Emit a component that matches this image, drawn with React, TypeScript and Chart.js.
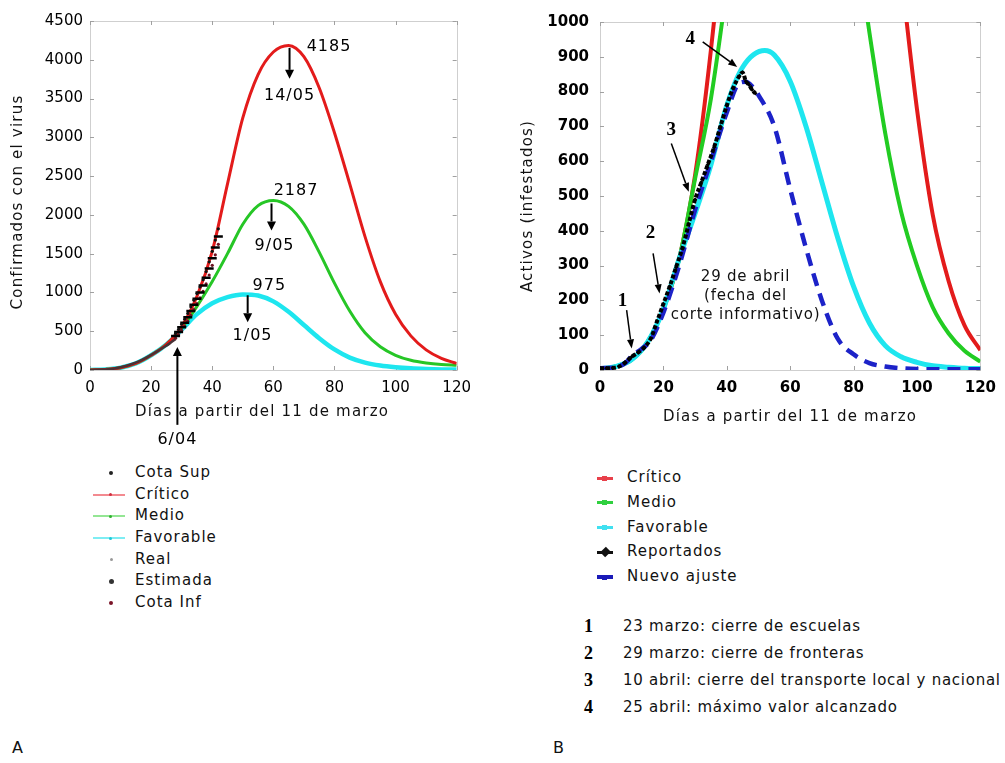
import React, { useEffect, useRef } from "react";
import { Chart, registerables } from "chart.js";

Chart.register(...registerables);

const FONT = '"DejaVu Sans", Verdana, sans-serif';
const SERIF = '"Liberation Serif", "DejaVu Serif", serif';

// ---------------- Panel A: Confirmados ----------------
const xTicksA = [0, 20, 40, 60, 80, 100, 120];
const yTicksA = [0, 500, 1000, 1500, 2000, 2500, 3000, 3500, 4000, 4500];
const daysA = [0, 5, 10, 15, 20, 25, 30, 35, 40, 45, 50, 55, 60, 65, 70, 75, 80, 85, 90, 95, 100, 105, 110, 115, 120];
const criticoA = [0, 8, 30, 85, 190, 330, 560, 950, 1530, 2400, 3250, 3810, 4100, 4185, 4040, 3640, 3060, 2400, 1720, 1140, 720, 440, 260, 150, 85];
const medioA = [0, 8, 30, 85, 190, 330, 540, 820, 1140, 1500, 1880, 2120, 2187, 2110, 1880, 1520, 1120, 760, 480, 300, 190, 125, 90, 70, 60];
const favorableA = [0, 8, 30, 85, 190, 330, 520, 720, 860, 940, 975, 960, 885, 750, 580, 410, 265, 160, 95, 57, 35, 21, 13, 8, 5];
const daysRealA = [0, 2, 4, 6, 8, 10, 12, 14, 16, 18, 20, 22, 24, 26, 28];
const realA = [0, 2, 5, 10, 20, 35, 55, 80, 110, 150, 195, 240, 290, 340, 400];
const daysEstA = [28, 29, 30, 31, 32, 33, 34, 35, 36, 37, 38, 39, 40, 41, 42];
const estimadaA = [440, 490, 550, 610, 680, 760, 840, 920, 1000, 1090, 1190, 1310, 1440, 1580, 1720];
const cotaSupA = [470, 525, 590, 655, 730, 815, 900, 985, 1070, 1165, 1270, 1395, 1530, 1675, 1820];
const cotaInfA = [410, 455, 510, 565, 630, 705, 780, 855, 930, 1015, 1110, 1225, 1350, 1485, 1620];
const legendLabelsA = ["Cota Sup", "Crítico", "Medio", "Favorable", "Real", "Estimada", "Cota Inf"];

// ---------------- Panel B: Activos ----------------
const xTicksB = [0, 20, 40, 60, 80, 100, 120];
const yTicksB = [0, 100, 200, 300, 400, 500, 600, 700, 800, 900, 1000];
const daysB = [0, 5, 10, 15, 20, 25, 30, 35, 40, 45, 50, 55, 60, 65, 70, 75, 80, 85, 90, 95, 100, 105, 110, 115, 120];
const criticoB = [3, 10, 30, 80, 175, 320, 560, 920, 1380, 1950, 2500, 2950, 3200, 3300, 3150, 2850, 2400, 1950, 1520, 1140, 750, 445, 255, 128, 57];
const medioB = [3, 10, 30, 80, 175, 320, 550, 780, 1100, 1450, 1750, 1950, 2000, 1950, 1800, 1560, 1280, 970, 680, 455, 300, 180, 105, 55, 24];
const daysFavB = [0, 5, 10, 15, 20, 25, 30, 35, 40, 45, 52, 55, 60, 65, 70, 75, 80, 85, 90, 95, 100, 105, 110, 115, 120];
const favorableB = [3, 10, 30, 80, 175, 320, 450, 590, 760, 870, 918, 905, 830, 700, 540, 380, 240, 135, 70, 38, 22, 12, 8, 5, 4];
const daysAjusteB = [0, 5, 8, 10, 13, 16, 20, 25, 30, 35, 40, 44, 46, 48, 50, 55, 60, 65, 70, 75, 80, 85, 90, 95, 100, 110, 120];
const ajusteB = [5, 8, 20, 40, 60, 85, 165, 300, 460, 600, 740, 825, 828, 815, 790, 700, 520, 350, 200, 90, 45, 20, 10, 5, 3, 2, 2];
const daysRepB = [0, 2, 4, 6, 8, 10, 12, 14, 16, 18, 20, 22, 24, 26, 28, 30, 32, 34, 36, 38, 40, 42, 44, 45, 46, 47, 48, 49];
const reportadosB = [5, 5, 6, 10, 22, 38, 50, 65, 90, 140, 190, 240, 295, 350, 420, 490, 540, 590, 640, 700, 760, 810, 845, 855, 830, 820, 805, 795];
const legendLabelsB = ["Crítico", "Medio", "Favorable", "Reportados", "Nuevo ajuste"];
const eventNumbers = ["1", "2", "3", "4"];
const eventLabels = [
  "23 marzo: cierre de escuelas",
  "29 marzo: cierre de fronteras",
  "10 abril: cierre del transporte local y nacional",
  "25 abril: máximo valor alcanzado",
];

const pts = (xs: number[], ys: number[]) => xs.map((x, i) => ({ x, y: ys[i] }));

function drawArrow(ctx: any, x1: number, y1: number, x2: number, y2: number, head: number, half: number, lw: number) {
  const ang = Math.atan2(y2 - y1, x2 - x1);
  const bx = x2 - head * Math.cos(ang);
  const by = y2 - head * Math.sin(ang);
  ctx.lineWidth = lw;
  ctx.beginPath();
  ctx.moveTo(x1, y1);
  ctx.lineTo(bx, by);
  ctx.stroke();
  ctx.beginPath();
  ctx.moveTo(x2, y2);
  ctx.lineTo(bx + half * Math.sin(ang), by - half * Math.cos(ang));
  ctx.lineTo(bx - half * Math.sin(ang), by + half * Math.cos(ang));
  ctx.closePath();
  ctx.fill();
}

const framePlugin = {
  id: "frameTicks",
  beforeDatasetsDraw(chart: any) {
    const { ctx, chartArea: a, scales } = chart;
    ctx.save();
    ctx.strokeStyle = "#cfcfcf";
    ctx.lineWidth = 1;
    ctx.strokeRect(Math.round(a.left) + 0.5, Math.round(a.top) + 0.5, Math.round(a.right - a.left), Math.round(a.bottom - a.top));
    ctx.strokeStyle = "#a0a0a0";
    ctx.beginPath();
    scales.x.ticks.forEach((t: any) => {
      const px = Math.round(scales.x.getPixelForValue(t.value)) + 0.5;
      ctx.moveTo(px, a.top);
      ctx.lineTo(px, a.top + 4);
      ctx.moveTo(px, a.bottom);
      ctx.lineTo(px, a.bottom - 4);
    });
    scales.y.ticks.forEach((t: any) => {
      const py = Math.round(scales.y.getPixelForValue(t.value)) + 0.5;
      ctx.moveTo(a.left, py);
      ctx.lineTo(a.left + 4, py);
      ctx.moveTo(a.right, py);
      ctx.lineTo(a.right - 4, py);
    });
    ctx.stroke();
    ctx.restore();
  },
};

function titlesPlugin(xTitle: string, yTitle: string, xTitleX: number, xTitleY: number, yTitleX: number, yTitleY: number) {
  return {
    id: "axisTitles",
    afterDraw(chart: any) {
      const { ctx } = chart;
      ctx.save();
      ctx.fillStyle = "#111";
      ctx.font = `15px ${FONT}`;
      ctx.letterSpacing = "1.2px";
      ctx.textAlign = "center";
      ctx.textBaseline = "middle";
      ctx.fillText(xTitle, xTitleX, xTitleY);
      ctx.translate(yTitleX, yTitleY);
      ctx.rotate(-Math.PI / 2);
      ctx.fillText(yTitle, 0, 0);
      ctx.restore();
    },
  };
}

const annotAPlugin = {
  id: "annotA",
  afterDraw(chart: any) {
    const { ctx, scales } = chart;
    const X = (v: number) => scales.x.getPixelForValue(v);
    const Y = (v: number) => scales.y.getPixelForValue(v);
    ctx.save();
    ctx.fillStyle = "#000";
    ctx.strokeStyle = "#000";
    ctx.font = `16px ${FONT}`;
    ctx.letterSpacing = "1px";
    ctx.textBaseline = "middle";
    const txt = (s: string, x: number, y: number, align: string) => {
      ctx.textAlign = align;
      ctx.fillText(s, X(x), Y(y));
    };
    txt("4185", 70.9, 4166, "left");
    drawArrow(ctx, X(65.3), Y(4153), X(65.3), Y(3754), 9, 4.5, 2);
    txt("14/05", 65.3, 3536, "center");
    txt("2187", 60.1, 2314, "left");
    drawArrow(ctx, X(59.4), Y(2147), X(59.4), Y(1800), 9, 4.5, 2);
    txt("9/05", 60.4, 1607, "center");
    txt("975", 53.2, 1080, "left");
    drawArrow(ctx, X(51.6), Y(964), X(51.6), Y(617), 9, 4.5, 2);
    txt("1/05", 53.2, 437, "center");
    drawArrow(ctx, X(28.6), Y(-707), X(28.6), Y(296), 9, 4.5, 2);
    txt("6/04", 28.6, -900, "center");
    ctx.restore();
  },
};

const annotBPlugin = {
  id: "annotB",
  afterDraw(chart: any) {
    const { ctx, scales } = chart;
    const X = (v: number) => scales.x.getPixelForValue(v);
    const Y = (v: number) => scales.y.getPixelForValue(v);
    ctx.save();
    ctx.fillStyle = "#000";
    ctx.strokeStyle = "#000";
    ctx.textAlign = "center";
    ctx.textBaseline = "middle";
    ctx.font = `bold 19px ${SERIF}`;
    const nums = [
      [7.1, 198],
      [15.9, 393],
      [22.5, 689],
      [28.5, 950],
    ];
    nums.forEach((p, i) => ctx.fillText(eventNumbers[i], X(p[0]), Y(p[1])));
    drawArrow(ctx, X(8.4), Y(172), X(10), Y(62), 9, 3.5, 1.5);
    drawArrow(ctx, X(16.75), Y(335), X(18.8), Y(220), 9, 3.5, 1.5);
    drawArrow(ctx, X(22.5), Y(651), X(28), Y(512), 9, 3.5, 1.5);
    drawArrow(ctx, X(32.4), Y(943), X(43.3), Y(871), 9, 3.5, 1.5);
    ctx.font = `15px ${FONT}`;
    ctx.letterSpacing = "0.8px";
    ctx.fillStyle = "#111";
    ctx.fillText("29 de abril", X(45.9), Y(267));
    ctx.fillText("(fecha del", X(45.9), Y(212));
    ctx.fillText("corte informativo)", X(45.9), Y(158));
    ctx.restore();
  },
};

function xScale(ticks: number[], font: any, h: number) {
  return {
    type: "linear",
    min: 0,
    max: 120,
    afterBuildTicks: (s: any) => {
      s.ticks = ticks.map((v) => ({ value: v }));
    },
    afterFit: (s: any) => {
      s.height = h;
    },
    grid: { display: false, drawTicks: false },
    border: { display: false },
    ticks: { font, color: "#000", padding: 9, maxRotation: 0, autoSkip: false, callback: (v: any) => String(v) },
  };
}

function yScale(ticks: number[], max: number, width: number, pad: number, font: any) {
  return {
    type: "linear",
    min: 0,
    max,
    afterBuildTicks: (s: any) => {
      s.ticks = ticks.map((v) => ({ value: v }));
    },
    afterFit: (s: any) => {
      s.width = width;
    },
    grid: { display: false, drawTicks: false },
    border: { display: false },
    ticks: { font, color: "#000", padding: pad, autoSkip: false, callback: (v: any) => String(v) },
  };
}

const lineDs = (label: string, data: any, color: string, width: number, extra: any = {}) => ({
  label,
  data,
  borderColor: color,
  backgroundColor: color,
  borderWidth: width,
  pointRadius: 0,
  cubicInterpolationMode: "monotone",
  fill: false,
  ...extra,
});

function LegendA() {
  const top0 = 473;
  const step = 21.67;
  const markers = [
    { t: "dot", c: "#222", s: 4 },
    { t: "line", c: "rgba(235,60,70,0.6)", d: "#d03040" },
    { t: "line", c: "rgba(60,210,60,0.55)", d: "#30b030" },
    { t: "line", c: "rgba(40,225,235,0.6)", d: "#20c8d8" },
    { t: "dot", c: "#999", s: 3 },
    { t: "dot", c: "#333", s: 5 },
    { t: "dot", c: "#7a1428", s: 4 },
  ];
  return (
    <>
      {legendLabelsA.map((lab, i) => {
        const cy = top0 + i * step;
        const m = markers[i];
        return (
          <React.Fragment key={lab}>
            {m.t === "line" && (
              <div style={{ position: "absolute", left: 93, top: cy - 1, width: 32, height: 2, background: m.c }} />
            )}
            {m.t === "line" && (
              <div style={{ position: "absolute", left: 109, top: cy - 1.5, width: 3, height: 3, borderRadius: 2, background: m.d }} />
            )}
            {m.t === "dot" && (
              <div
                style={{
                  position: "absolute",
                  left: 111 - (m.s as number) / 2,
                  top: cy - (m.s as number) / 2,
                  width: m.s,
                  height: m.s,
                  borderRadius: "50%",
                  background: m.c,
                }}
              />
            )}
            <div
              style={{
                position: "absolute",
                left: 135,
                top: cy - 10,
                height: 20,
                lineHeight: "20px",
                font: `15px ${FONT}`,
                letterSpacing: "1px",
                color: "#111",
                whiteSpace: "nowrap",
              }}
            >
              {lab}
            </div>
          </React.Fragment>
        );
      })}
    </>
  );
}

function LegendB() {
  const top0 = 478;
  const step = 24.75;
  const cols = [
    { c: "#e8404a", h: 3 },
    { c: "#30d040", h: 3 },
    { c: "#40e0f0", h: 3 },
    { c: "#111", h: 3, star: true },
    { c: "#1a1ab8", h: 4 },
  ];
  const evTop = 627;
  const evStep = 27;
  return (
    <>
      {legendLabelsB.map((lab, i) => {
        const cy = top0 + i * step;
        const m = cols[i];
        return (
          <React.Fragment key={lab}>
            <div style={{ position: "absolute", left: 597, top: cy - m.h / 2, width: 16, height: m.h, background: m.c }} />
            <div
              style={{
                position: "absolute",
                left: 602,
                top: cy - (m.star ? 4 : 2.5),
                width: m.star ? 7 : 5,
                height: m.star ? 8 : 5,
                background: m.c,
                transform: m.star ? "rotate(45deg)" : undefined,
              }}
            />
            <div
              style={{
                position: "absolute",
                left: 627,
                top: cy - 10,
                height: 20,
                lineHeight: "20px",
                font: `15px ${FONT}`,
                letterSpacing: "1px",
                color: "#111",
                whiteSpace: "nowrap",
              }}
            >
              {lab}
            </div>
          </React.Fragment>
        );
      })}
      {eventLabels.map((lab, i) => {
        const cy = evTop + i * evStep;
        return (
          <React.Fragment key={lab}>
            <div
              style={{
                position: "absolute",
                left: 584,
                top: cy - 11,
                height: 22,
                lineHeight: "22px",
                font: `bold 18px ${SERIF}`,
                color: "#000",
              }}
            >
              {eventNumbers[i]}
            </div>
            <div
              style={{
                position: "absolute",
                left: 623,
                top: cy - 10,
                height: 20,
                lineHeight: "20px",
                font: `15px ${FONT}`,
                letterSpacing: "0.75px",
                color: "#111",
                whiteSpace: "nowrap",
              }}
            >
              {lab}
            </div>
          </React.Fragment>
        );
      })}
    </>
  );
}

export default function App() {
  const refA = useRef<HTMLCanvasElement>(null);
  const refB = useRef<HTMLCanvasElement>(null);

  useEffect(() => {
    const tickFontA = { family: FONT, size: 15 };
    const tickFontB = { family: FONT, size: 15, weight: "bold" };

    const chartA = new Chart(refA.current as HTMLCanvasElement, {
      type: "line",
      data: {
        datasets: [
          {
            label: "Cota Sup",
            data: pts(daysEstA, cotaSupA),
            showLine: false,
            pointRadius: 1.6,
            pointBackgroundColor: "#111",
            pointBorderWidth: 0,
            order: 1,
          },
          {
            label: "Estimada",
            data: pts(daysEstA, estimadaA),
            showLine: false,
            pointStyle: "line",
            pointRadius: 4.5,
            pointBorderColor: "#000",
            pointBorderWidth: 2.5,
            order: 2,
          },
          {
            label: "Cota Inf",
            data: pts(daysEstA, cotaInfA),
            showLine: false,
            pointRadius: 1.6,
            pointBackgroundColor: "#6e1424",
            pointBorderWidth: 0,
            order: 3,
          },
          lineDs("Real", pts(daysRealA, realA), "#4a3236", 2.5, { order: 4 }),
          lineDs("Crítico", pts(daysA, criticoA), "#e31b1b", 3, { order: 5 }),
          lineDs("Medio", pts(daysA, medioA), "#26c626", 3, { order: 6 }),
          lineDs("Favorable", pts(daysA, favorableA), "#1ee6ef", 4.5, { order: 7 }),
        ] as any,
      },
      options: {
        responsive: false,
        animation: false,
        devicePixelRatio: 1,
        layout: { padding: { left: 0, right: 23, top: 21, bottom: 0 } },
        plugins: { legend: { display: false }, tooltip: { enabled: false } },
        scales: {
          x: xScale(xTicksA, tickFontA, 90),
          y: yScale(yTicksA, 4500, 90, 7, tickFontA),
        } as any,
      },
      plugins: [framePlugin, titlesPlugin("Días a partir del 11 de marzo", "Confirmados con el virus", 262, 412, 18, 202), annotAPlugin],
    });

    const chartB = new Chart(refB.current as HTMLCanvasElement, {
      type: "line",
      data: {
        datasets: [
          lineDs("Reportados", pts(daysRepB, reportadosB), "#000", 4, {
            borderDash: [4, 2],
            pointRadius: 2.2,
            pointStyle: "rectRot",
            pointBackgroundColor: "#000",
            pointBorderWidth: 0,
            order: 1,
          }),
          lineDs("Nuevo ajuste", pts(daysAjusteB, ajusteB), "#1c22c8", 4.5, { borderDash: [13, 8], order: 2 }),
          lineDs("Favorable", pts(daysFavB, favorableB), "#1ee6ef", 5, { order: 3 }),
          lineDs("Medio", pts(daysB, medioB), "#22cc22", 4, { order: 4 }),
          lineDs("Crítico", pts(daysB, criticoB), "#e31b1b", 4, { order: 5 }),
        ] as any,
      },
      options: {
        responsive: false,
        animation: false,
        devicePixelRatio: 1,
        layout: { padding: { left: 0, right: 21, top: 22, bottom: 0 } },
        plugins: { legend: { display: false }, tooltip: { enabled: false } },
        scales: {
          x: xScale(xTicksB, tickFontB, 70),
          y: yScale(yTicksB, 1000, 100, 11, tickFontB),
        } as any,
      },
      plugins: [framePlugin, titlesPlugin("Días a partir del 11 de marzo", "Activos (infestados)", 290, 417, 28, 206), annotBPlugin],
    });

    return () => {
      chartA.destroy();
      chartB.destroy();
    };
  }, []);

  return (
    <div style={{ position: "fixed", left: 0, top: 0, width: 1005, height: 763, background: "#fff", overflow: "hidden" }}>
      <canvas ref={refA} width={480} height={460} style={{ position: "absolute", left: 0, top: 0 }} />
      <canvas ref={refB} width={505} height={440} style={{ position: "absolute", left: 500, top: 0 }} />
      <LegendA />
      <LegendB />
      <div style={{ position: "absolute", left: 12, top: 738, font: `16px ${FONT}`, color: "#111" }}>A</div>
      <div style={{ position: "absolute", left: 553, top: 738, font: `16px ${FONT}`, color: "#111" }}>B</div>
    </div>
  );
}
